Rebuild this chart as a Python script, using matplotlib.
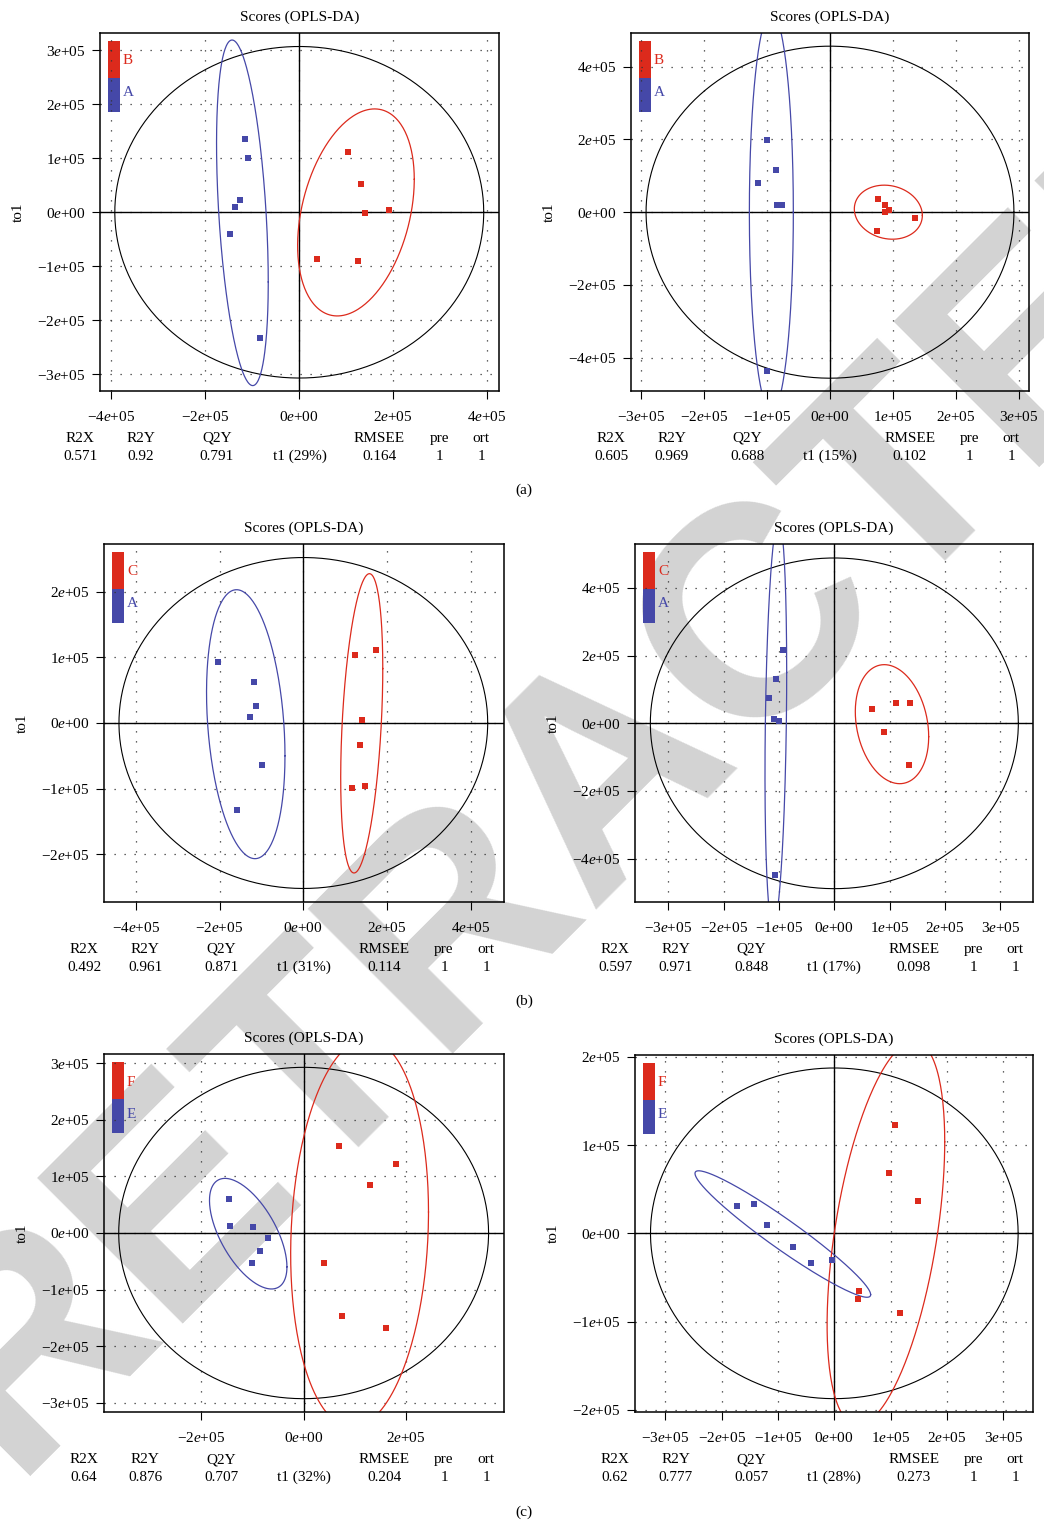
import numpy as np
import matplotlib.pyplot as plt
from matplotlib.patches import Rectangle
from matplotlib.ticker import FuncFormatter
from matplotlib.transforms import offset_copy

plt.rcParams['font.family'] = ['Liberation Serif', 'DejaVu Serif']
plt.rcParams['mathtext.fontset'] = 'custom'
plt.rcParams['mathtext.rm'] = 'Liberation Serif'
plt.rcParams['mathtext.it'] = 'Liberation Serif:italic'
plt.rcParams['font.size'] = 11

RED = '#dc2a1c'
BLUE = '#4548a8'
SCALE = 1e5  # scores below are given in units of 1e5

group_labels = [('B', 'A'), ('B', 'A'), ('C', 'A'), ('C', 'A'), ('F', 'E'), ('F', 'E')]

# predictive (t1) and orthogonal (to1) scores, one list per model
red_t1 = [
    [1.035, 1.305, 1.397, 1.908, 0.376, 1.248],
    [0.757, 0.873, 0.873, 0.937, 1.349, 0.741],
    [1.235, 1.737, 1.402, 1.355, 1.163, 1.474],
    [0.675, 1.108, 1.361, 0.892, 1.343],
    [0.693, 1.810, 1.301, 0.399, 0.752, 1.614],
    [1.077, 0.970, 1.485, 0.438, 0.420, 1.166],
]
red_to1 = [
    [1.117, 0.525, -0.006, 0.043, -0.864, -0.901],
    [0.367, 0.211, 0.009, 0.073, -0.156, -0.505],
    [1.030, 1.107, 0.041, -0.340, -0.990, -0.964],
    [0.414, 0.591, 0.591, -0.256, -1.241],
    [1.541, 1.212, 0.853, -0.524, -1.459, -1.671],
    [1.224, 0.682, 0.365, -0.648, -0.738, -0.900],
]
blue_t1 = [
    [-1.156, -1.092, -1.270, -1.369, -1.475, -0.837],
    [-1.000, -0.852, -1.138, -0.841, -0.762, -1.000],
    [-2.040, -1.179, -1.131, -1.275, -0.988, -1.586],
    [-0.922, -1.048, -1.181, -1.090, -0.994, -1.072],
    [-1.464, -1.444, -0.993, -0.699, -0.856, -1.013],
    [-1.722, -1.420, -1.195, -0.728, -0.408, -0.041],
]
blue_to1 = [
    [1.358, 1.006, 0.228, 0.099, -0.401, -2.327],
    [1.972, 1.165, 0.807, 0.211, 0.211, -4.358],
    [0.924, 0.619, 0.254, 0.086, -0.645, -1.330],
    [2.158, 1.300, 0.739, 0.118, 0.069, -4.493],
    [0.606, 0.129, 0.112, -0.082, -0.312, -0.524],
    [0.313, 0.335, 0.098, -0.154, -0.331, -0.298],
]

# group ellipses: centre x, centre y, half-width, half-height, correlation
red_ellipse = [
    (1.206, -0.003, 1.241, 1.917, 0.32),
    (0.926, 0.0, 0.54, 0.743, -0.12),
    (1.394, -0.005, 0.502, 2.279, 0.366),
    (1.042, -0.025, 0.663, 1.759, -0.21),
    (1.095, 0.0, 1.349, 3.43, 0.108),
    (0.916, 0.0, 1.044, 2.172, 0.477),
]
blue_ellipse = [
    (-1.21, -0.01, 0.55, 3.2, -0.4),
    (-0.931, 0.0, 0.349, 5.5, 0.0),
    (-1.374, -0.018, 0.936, 2.048, -0.235),
    (-1.057, 0.0, 0.196, 6.0, 0.25),
    (-1.085, -0.012, 0.758, 0.976, -0.6),
    (-0.914, -0.008, 1.559, 0.716, -0.958),
]
# Hotelling T2 ellipse half-axes
hotelling = [(3.925, 3.07), (2.92, 4.565), (4.40, 2.52),
             (3.325, 4.887), (3.62, 2.924), (3.263, 1.872)]

xlims = [(-4.24, 4.25), (-3.159, 3.159), (-4.757, 4.789),
         (-3.602, 3.59), (-3.908, 3.922), (-3.538, 3.527)]
ylims = [(-3.31, 3.32), (-4.917, 4.927), (-2.726, 2.726),
         (-5.281, 5.30), (-3.159, 3.159), (-2.023, 2.019)]
xticks = [[-4, -2, 0, 2, 4], [-3, -2, -1, 0, 1, 2, 3], [-4, -2, 0, 2, 4],
          [-3, -2, -1, 0, 1, 2, 3], [-2, 0, 2], [-3, -2, -1, 0, 1, 2, 3]]
yticks = [[-3, -2, -1, 0, 1, 2, 3], [-4, -2, 0, 2, 4], [-2, -1, 0, 1, 2],
          [-4, -2, 0, 2, 4], [-3, -2, -1, 0, 1, 2, 3], [-2, -1, 0, 1, 2]]

r2x = [0.571, 0.605, 0.492, 0.597, 0.64, 0.62]
r2y = [0.92, 0.969, 0.961, 0.971, 0.876, 0.777]
q2y = [0.791, 0.688, 0.871, 0.848, 0.707, 0.057]
rmsee = [0.164, 0.102, 0.114, 0.098, 0.204, 0.273]
n_pre = [1, 1, 1, 1, 1, 1]
n_ort = [1, 1, 1, 1, 1, 1]
t1_pct = [29, 15, 31, 17, 32, 28]

panel_tags = ['(a)', '(b)', '(c)']

# panel boxes in pixels: left, right, top, bottom
boxes = [(100, 499, 33, 391), (631, 1029, 33, 391),
         (104, 504, 544, 902), (635, 1033, 544, 902),
         (104, 504, 1054, 1412), (635, 1033, 1055, 1412)]
W, H = 1044, 1522


def sci_label(v, pos):
    m = int(round(v / SCALE))
    if m == 0:
        return '0$e$+00'
    sign = '\u2212' if m < 0 else ''
    return f'{sign}{abs(m)}$e$+05'


def ellipse_xy(cx, cy, sx, sy, rho, n=300):
    t = np.linspace(0, 2 * np.pi, n)
    x = cx + sx * np.cos(t)
    y = cy + sy * (rho * np.cos(t) + np.sqrt(1 - rho ** 2) * np.sin(t))
    return x * SCALE, y * SCALE


def score_panel(fig, i):
    """
    draw one OPLS-DA score plot with its model summary underneath
    """
    left, right, top, bottom = boxes[i]
    wpx, hpx = right - left, bottom - top
    ax = fig.add_axes([left / W, 1 - bottom / H, wpx / W, hpx / H])
    ax.patch.set_facecolor('none')

    ax.set_xlim(xlims[i][0] * SCALE, xlims[i][1] * SCALE)
    ax.set_ylim(ylims[i][0] * SCALE, ylims[i][1] * SCALE)
    ax.set_xticks(np.array(xticks[i]) * SCALE)
    ax.set_yticks(np.array(yticks[i]) * SCALE)
    ax.xaxis.set_major_formatter(FuncFormatter(sci_label))
    ax.yaxis.set_major_formatter(FuncFormatter(sci_label))
    ax.tick_params(direction='out', length=5.5, width=0.8, labelsize=11)
    ax.tick_params(axis='x', pad=8)
    ax.tick_params(axis='y', pad=5)
    ax.grid(True, linestyle=(0, (1, 7)), color='0.2', linewidth=0.9)
    for s in ax.spines.values():
        s.set_linewidth(1.1)

    ax.axhline(0, color='black', lw=1.0)
    ax.axvline(0, color='black', lw=1.0)

    hx, hy = hotelling[i]
    ax.plot(*ellipse_xy(0, 0, hx, hy, 0), color='black', lw=0.8)
    ax.plot(*ellipse_xy(*blue_ellipse[i]), color=BLUE, lw=0.9)
    ax.plot(*ellipse_xy(*red_ellipse[i]), color=RED, lw=0.9)

    ax.plot(np.array(blue_t1[i]) * SCALE, np.array(blue_to1[i]) * SCALE,
            ls='none', marker='s', ms=4.4, mew=0, color=BLUE)
    ax.plot(np.array(red_t1[i]) * SCALE, np.array(red_to1[i]) * SCALE,
            ls='none', marker='s', ms=4.4, mew=0, color=RED)

    # colour key in the upper left corner
    red_lab, blue_lab = group_labels[i]
    ax.add_patch(Rectangle((8 / wpx, 1 - 45 / hpx), 12 / wpx, 37 / hpx,
                           transform=ax.transAxes, color=RED, lw=0))
    ax.add_patch(Rectangle((8 / wpx, 1 - 79 / hpx), 12 / wpx, 34 / hpx,
                           transform=ax.transAxes, color=BLUE, lw=0))
    ax.text(23 / wpx, 1 - 28 / hpx, red_lab, color=RED, transform=ax.transAxes,
            ha='left', va='center')
    ax.text(23 / wpx, 1 - 60 / hpx, blue_lab, color=BLUE, transform=ax.transAxes,
            ha='left', va='center')

    ax.text(0.5, 1, 'Scores (OPLS-DA)', ha='center', va='baseline',
            transform=offset_copy(ax.transAxes, fig=fig, y=12, units='dots'))
    ax.text(0, 0.5, 'to1', rotation=90, ha='center', va='center',
            transform=offset_copy(ax.transAxes, fig=fig, x=-82, units='dots'))

    head = offset_copy(ax.transAxes, fig=fig, y=-51, units='dots')
    vals = offset_copy(ax.transAxes, fig=fig, y=-69, units='dots')
    cols = [-0.05, 0.103, 0.293, 0.70, 0.85, 0.955]
    names = ['R2X', 'R2Y', 'Q2Y', 'RMSEE', 'pre', 'ort']
    numbers = [r2x[i], r2y[i], q2y[i], rmsee[i], n_pre[i], n_ort[i]]
    for xc, name, val in zip(cols, names, numbers):
        ax.text(xc, 0, name, transform=head, ha='center', va='baseline')
        ax.text(xc, 0, str(val), transform=vals, ha='center', va='baseline')
    ax.text(0.5, 0, f't1 ({t1_pct[i]}%)', transform=vals, ha='center', va='baseline')
    return ax


fig = plt.figure(figsize=(W / 100, H / 100), dpi=100)
fig.patch.set_facecolor('white')

fig.text(607 / W, 1 - 770 / H, 'RETRACTED', rotation=45, rotation_mode='anchor',
         ha='center', va='center', fontsize=215, fontweight='bold',
         family=['Liberation Sans', 'DejaVu Sans'], color='#d3d3d3', zorder=-1)

for i in range(6):
    score_panel(fig, i)

for k, tag in enumerate(panel_tags):
    fig.text(524 / W, 1 - (490 + 511 * k) / H, tag, ha='center', va='center')

fig.savefig('out.png', dpi=100)
